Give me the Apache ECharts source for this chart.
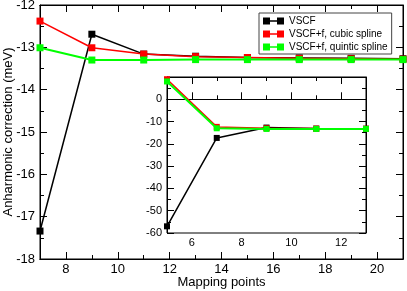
<!DOCTYPE html>
<html>
<head>
<meta charset="utf-8">
<script src="https://cdn.jsdelivr.net/npm/echarts@6/dist/echarts.min.js"></script>
<style>
html,body{margin:0;padding:0;background:#fff;}
#c{width:407px;height:291px;}
</style>
</head>
<body>
<div id="c"></div>
<script>
// ---- data ----
var seriesNames = ['VSCF', 'VSCF+f, cubic spline', 'VSCF+f, quintic spline'];
var mainX = [7, 9, 11, 13, 15, 17, 19, 21];
var mainVSCF = [-17.34, -12.69, -13.16, -13.21, -13.24, -13.25, -13.26, -13.27];
var mainCubic = [-12.38, -13.01, -13.16, -13.22, -13.24, -13.26, -13.27, -13.28];
var mainQuintic = [-13.01, -13.30, -13.30, -13.29, -13.29, -13.29, -13.29, -13.29];

var insetX = [5, 7, 9, 11, 13];
var insetVSCF = [-57.0, -17.34, -12.69, -13.16, -13.21];
var insetCubic = [9.0, -12.38, -13.01, -13.16, -13.22];
var insetQuintic = [8.0, -13.01, -13.30, -13.30, -13.29];

var mainXMajor = [8, 10, 12, 14, 16, 18, 20];
var mainXMinor = [9, 11, 13, 15, 17, 19];
var insetXMajor = [6, 8, 10, 12];
var insetXMinor = [7, 9, 11];

var colors = ['#000000', '#ff0000', '#00ff00'];
var FONT = 'Liberation Sans, Arial, sans-serif';

function pairs(xs, ys) { return xs.map(function (x, i) { return [x, ys[i]]; }); }

function xAx(grid, pos, min, max, ticks, len, labels, fs, extra) {
  var a = {
    type: 'value', gridIndex: grid, position: pos, min: min, max: max,
    axisLine: { show: true, lineStyle: { color: '#000', width: 1 } },
    axisTick: { show: true, inside: true, length: len, customValues: ticks, lineStyle: { color: '#000', width: 1 } },
    axisLabel: labels ? { show: true, customValues: ticks, fontSize: fs, color: '#000', fontFamily: FONT, margin: 4 } : { show: false },
    splitLine: { show: false }
  };
  if (extra) for (var k in extra) a[k] = extra[k];
  return a;
}
function yAx(grid, pos, min, max, interval, labels, fs, extra) {
  var a = {
    type: 'value', gridIndex: grid, position: pos, min: min, max: max, interval: interval,
    axisLine: { show: true, lineStyle: { color: '#000', width: 1 } },
    axisTick: { show: true, inside: true, length: 7, lineStyle: { color: '#000', width: 1 } },
    minorTick: { show: true, splitNumber: 2, length: 4, lineStyle: { color: '#000', width: 1 } },
    axisLabel: labels ? { show: true, fontSize: fs, color: '#000', fontFamily: FONT, margin: 5 } : { show: false },
    splitLine: { show: false }, minorSplitLine: { show: false }
  };
  if (extra) for (var k in extra) a[k] = extra[k];
  return a;
}

var option = {
  animation: false,
  backgroundColor: '#fff',
  textStyle: { fontFamily: FONT },
  grid: [
    { left: 40, top: 5, width: 363, height: 254, show: true, backgroundColor: '#fff', borderColor: '#000', borderWidth: 1, outerBoundsMode: 'none', containLabel: false },
    { left: 167, top: 77, width: 199, height: 156, show: true, backgroundColor: '#fff', borderColor: '#000', borderWidth: 1, outerBoundsMode: 'none', containLabel: false }
  ],
  legend: {
    orient: 'vertical', left: 259, top: 13,
    padding: [3, 4, 2, 4], itemGap: 3,
    itemWidth: 21, itemHeight: 7,
    borderColor: '#444', borderWidth: 1, backgroundColor: '#fff',
    icon: 'path://M0,0h7v7h-7z M7,2.8h7v1.4h-7z M14,0h7v7h-7z',
    textStyle: { fontSize: 10, color: '#000', fontFamily: FONT, lineHeight: 10, padding: [0, 0, 0, 0] },
    data: seriesNames
  },
  xAxis: [
    xAx(0, 'bottom', 7, 21, mainXMajor, 7, true, 13, {
      name: 'Mapping points', nameLocation: 'middle', nameGap: 17, nameMoveOverlap: false,
      nameTextStyle: { fontSize: 13, color: '#000', fontFamily: FONT }
    }),
    xAx(0, 'bottom', 7, 21, mainXMinor, 4, false),
    xAx(0, 'top', 7, 21, mainXMajor, 7, false),
    xAx(0, 'top', 7, 21, mainXMinor, 4, false),
    xAx(1, 'bottom', 5, 13, insetXMajor, 7, true, 11),
    xAx(1, 'bottom', 5, 13, insetXMinor, 4, false),
    xAx(1, 'top', 5, 13, insetXMajor, 7, false),
    xAx(1, 'top', 5, 13, insetXMinor, 4, false)
  ],
  yAxis: [
    yAx(0, 'left', -18, -12, 1, true, 13, {
      name: 'Anharmonic correction (meV)', nameLocation: 'middle', nameGap: 25, nameMoveOverlap: false,
      nameTextStyle: { fontSize: 13, color: '#000', fontFamily: FONT }
    }),
    yAx(0, 'right', -18, -12, 1, false),
    yAx(1, 'left', -60, 10, 10, true, 11),
    yAx(1, 'right', -60, 10, 10, false)
  ],
  series: []
};
option.yAxis[2].axisLabel.showMaxLabel = false;

var mainData = [mainVSCF, mainCubic, mainQuintic];
var insetData = [insetVSCF, insetCubic, insetQuintic];
for (var i = 0; i < 3; i++) {
  option.series.push({
    type: 'line', name: seriesNames[i], xAxisIndex: 0, yAxisIndex: 0,
    data: pairs(mainX, mainData[i]), symbol: 'rect', symbolSize: 7, clip: false,
    itemStyle: { color: colors[i] }, lineStyle: { color: colors[i], width: i === 2 ? 2 : 1.5 }, z: 2 + i
  });
}
for (var j = 0; j < 3; j++) {
  option.series.push({
    type: 'line', name: seriesNames[j], xAxisIndex: 4, yAxisIndex: 2,
    data: pairs(insetX, insetData[j]), symbol: 'rect', symbolSize: 6, clip: false,
    itemStyle: { color: colors[j] }, lineStyle: { color: colors[j], width: j === 2 ? 2 : 1.5 }, z: 2 + j
  });
}

var chart = echarts.init(document.getElementById('c'), null, { renderer: 'canvas' });
chart.setOption(option);
</script>
</body>
</html>
